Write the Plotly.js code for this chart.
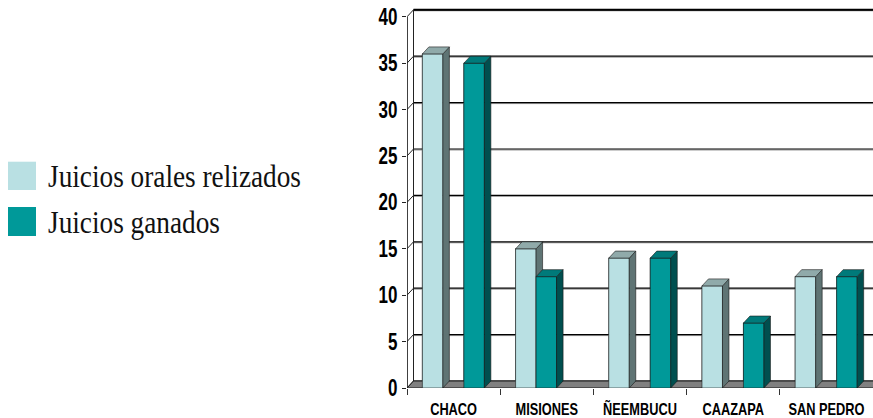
<!DOCTYPE html>
<html>
<head>
<meta charset="utf-8">
<script src="https://cdn.plot.ly/plotly-3.0.1.min.js"></script>
<style>html,body{margin:0;padding:0;background:#fff;}#chart{width:873px;height:418px;}</style>
</head>
<body>
<div id="chart"></div>
<script>
// ---- data ----
const categories = ['CHACO', 'MISIONES', 'ÑEEMBUCU', 'CAAZAPA', 'SAN PEDRO'];
const juiciosOralesRealizados = [36, 15, 14, 11, 12];
const juiciosGanados = [35, 12, 14, 7, 12];
const yTickValues = [0, 5, 10, 15, 20, 25, 30, 35, 40];
const seriesNames = ['Juicios orales relizados', 'Juicios ganados'];

// ---- style / geometry ----
const ML = 407, MR = 0, MT = 6, MB = 30, W = 873, H = 418;
const plotW = W - ML - MR, plotH = H - MT - MB;
const pxPerYTarget = 9.28;
const xRange = [-0.5, categories.length - 0.5];
const yRange = [0, plotH / pxPerYTarget];
const pxPerX = plotW / (xRange[1] - xRange[0]);
const pxPerY = plotH / (yRange[1] - yRange[0]);
const DX = 6.5 / pxPerX;   // depth offset, x data units
const DY = 7.0 / pxPerY;   // depth offset, y data units
const barW = 0.22;
const offLight = categories.map(() => -0.335);
const offTeal = [0.11, -0.115, 0.11, 0.11, 0.11];
const edge = '#1a1a1a';
const colLight = {front: '#B9E0E3', side: '#5F7474', top: '#90AAAA'};
const colTeal = {front: '#009999', side: '#004F4F', top: '#007A7A'};
const xIdx = categories.map((c, i) => i);

function polys(values, offsets, kind) {
  const xs = [], ys = [];
  values.forEach((v, i) => {
    const l = i + offsets[i], r = l + barW;
    let px, py;
    if (kind === 'side') { px = [r, r, r + DX, r + DX, r]; py = [0, v, v + DY, DY, 0]; }
    else if (kind === 'top') { px = [l, r, r + DX, l + DX, l]; py = [v, v, v + DY, v + DY, v]; }
    else { px = [l, r, r, l, l]; py = [0, 0, v, v, 0]; }
    xs.push(...px, null); ys.push(...py, null);
  });
  return {xs, ys};
}
function polyTrace(values, offsets, kind, color) {
  const p = polys(values, offsets, kind);
  return {type: 'scatter', mode: 'lines', x: p.xs, y: p.ys, fill: 'toself', fillcolor: color,
          line: {color: edge, width: 0.6}, hoverinfo: 'skip', showlegend: false};
}

const traces = [];
// bars (front faces)
traces.push(
  {type: 'bar', name: seriesNames[0], x: xIdx, y: juiciosOralesRealizados, width: barW, offset: offLight,
   marker: {color: colLight.front, line: {color: edge, width: 0.6}}, showlegend: false},
  {type: 'bar', name: seriesNames[1], x: xIdx, y: juiciosGanados, width: barW, offset: offTeal,
   marker: {color: colTeal.front, line: {color: edge, width: 0.6}}, showlegend: false}
);
// back wall gridlines: soft shadow + black line
const sx = [], sy = [], gx = [], gy = [];
const onePx = 1 / pxPerY;
yTickValues.forEach(v => {
  sx.push(xRange[0] + DX, xRange[1] + 1, null); sy.push(v + DY - onePx, v + DY - onePx, null);
  gx.push(xRange[0] + DX, xRange[1] + 1, null); gy.push(v + DY, v + DY, null);
});
traces.push({type: 'scatter', mode: 'lines', x: sx, y: sy, line: {color: '#9a9a9a', width: 1}, hoverinfo: 'skip', showlegend: false});
traces.push({type: 'scatter', mode: 'lines', x: gx, y: gy, line: {color: '#000', width: 1.2}, hoverinfo: 'skip', showlegend: false});
// top edge of back wall, heavier
const topV = yTickValues[yTickValues.length - 1];
traces.push({type: 'scatter', mode: 'lines', x: [xRange[0] + DX, xRange[1] + 1], y: [topV + DY, topV + DY],
  line: {color: '#000', width: 2}, hoverinfo: 'skip', showlegend: false});
// connectors from front axis to back wall
const cx = [], cy = [];
yTickValues.forEach(v => { cx.push(xRange[0], xRange[0] + DX, null); cy.push(v, v + DY, null); });
// back wall left edge
cx.push(xRange[0] + DX, xRange[0] + DX, null); cy.push(DY, topV + DY, null);
// front axis line
cx.push(xRange[0] + 0.004, xRange[0] + 0.004, null); cy.push(0, topV, null);
traces.push({type: 'scatter', mode: 'lines', x: cx, y: cy, line: {color: '#222', width: 1}, hoverinfo: 'skip', showlegend: false});
// floor
traces.push({type: 'scatter', mode: 'lines', fill: 'toself', fillcolor: '#808080',
  x: [xRange[0], xRange[1] + 1, xRange[1] + 1 + DX, xRange[0] + DX, xRange[0]],
  y: [0, 0, DY, DY, 0], line: {color: edge, width: 1}, hoverinfo: 'skip', showlegend: false});

// 3D faces, drawn series by series
traces.push(polyTrace(juiciosOralesRealizados, offLight, 'front', colLight.front));
traces.push(polyTrace(juiciosOralesRealizados, offLight, 'side', colLight.side));
traces.push(polyTrace(juiciosOralesRealizados, offLight, 'top', colLight.top));
traces.push(polyTrace(juiciosGanados, offTeal, 'front', colTeal.front));
traces.push(polyTrace(juiciosGanados, offTeal, 'side', colTeal.side));
traces.push(polyTrace(juiciosGanados, offTeal, 'top', colTeal.top));

const boundaries = categories.map((c, i) => i - 0.5).concat([categories.length - 0.5]);
const sans = 'Liberation Sans, Arial, sans-serif';

const toPaperX = px => (px - ML) / plotW;
const toPaperY = py => (H - MB - py) / plotH;
const legendColors = [colLight.front, colTeal.front];
const legendRows = [[161.7, 190], [207, 236]];
const shapes = legendRows.map((r, k) => ({type: 'rect', xref: 'paper', yref: 'paper',
  x0: toPaperX(8), x1: toPaperX(36), y0: toPaperY(r[1]), y1: toPaperY(r[0]),
  fillcolor: legendColors[k], line: {width: 0}}));
const annotations = legendRows.map((r, k) => ({xref: 'paper', yref: 'paper', x: toPaperX(46),
  y: toPaperY((r[0] + r[1]) / 2 + 1), xanchor: 'left', yanchor: 'middle', showarrow: false,
  text: seriesNames[k], font: {family: 'Liberation Serif, serif', size: 31, color: '#111'}}));

const layout = {
  width: W, height: H, margin: {l: ML, r: MR, t: MT, b: MB},
  paper_bgcolor: '#fff', plot_bgcolor: '#fff', barmode: 'overlay', showlegend: false,
  xaxis: {type: 'linear', range: xRange, tickmode: 'array', tickvals: xIdx, ticktext: categories,
          ticks: '', showgrid: false, zeroline: false, showline: false, ticklabeloverflow: 'allow',
          tickfont: {family: sans, size: 16, weight: 'bold', color: '#000'},
          ticklabelstandoff: 10,
          minor: {tickmode: 'array', tickvals: boundaries, ticks: 'outside', ticklen: 6, tickwidth: 1, tickcolor: '#333', showgrid: false}},
  yaxis: {range: yRange, tickmode: 'array', tickvals: yTickValues, ticks: 'outside', ticklen: 4,
          tickcolor: '#222', showgrid: false, zeroline: false, showline: false,
          tickfont: {family: sans, size: 23, weight: 'bold', color: '#000'}},
  shapes, annotations
};

function squeeze(selector, s, pivot) {
  document.querySelectorAll(selector).forEach(t => {
    const b = t.getBBox();
    const p = pivot === 'left' ? b.x : pivot === 'right' ? b.x + b.width : b.x + b.width / 2;
    const tr = t.getAttribute('transform') || '';
    t.setAttribute('transform', tr + ' translate(' + p + ',0) scale(' + s + ',1) translate(' + (-p) + ',0)');
  });
}
Plotly.newPlot('chart', traces, layout, {staticPlot: true, displayModeBar: false}).then(() => {
  squeeze('#chart .ytick text', 0.74, 'right');
  squeeze('#chart .xtick text', 0.8, 'center');
  squeeze('#chart .annotation-text', 0.88, 'left');
});
</script>
</body>
</html>
